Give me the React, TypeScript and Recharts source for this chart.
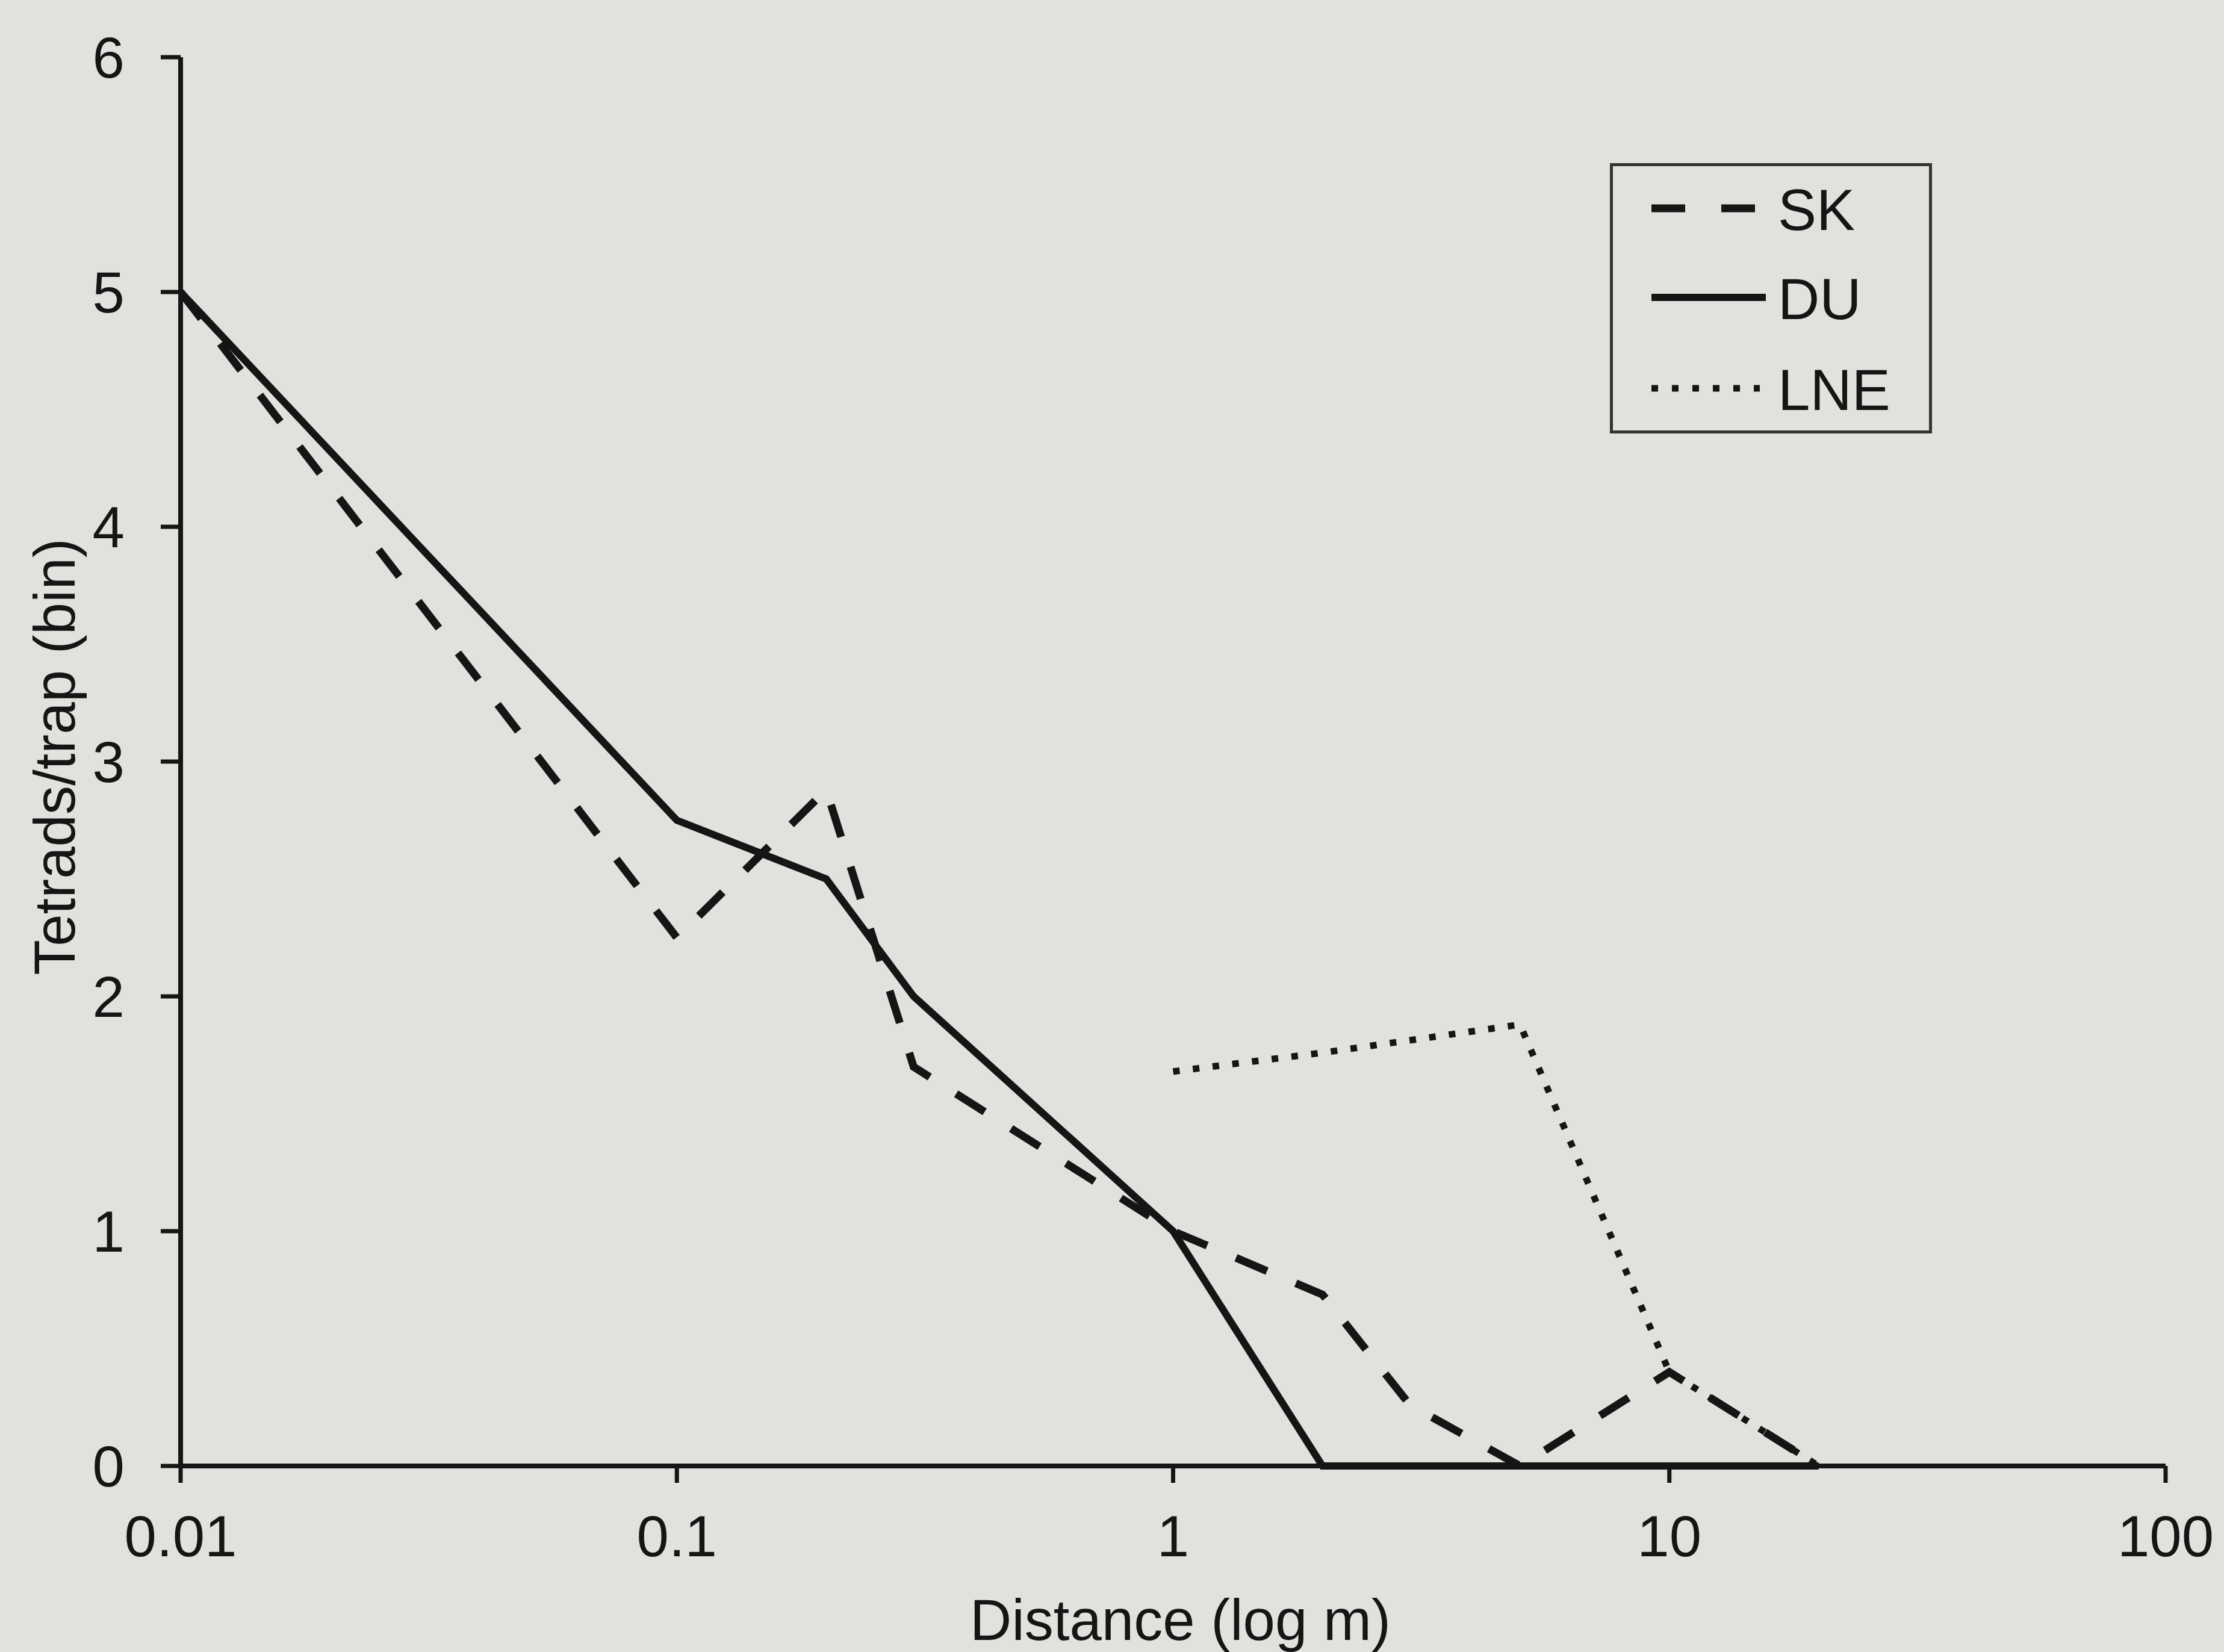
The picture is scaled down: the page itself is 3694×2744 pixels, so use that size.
import React from 'react';
import { LineChart, Line, XAxis, YAxis, Legend, Label } from 'recharts';

// ---- data ----
const skDistance = [0.01, 0.1, 0.2, 0.3, 1, 2, 3, 5, 10, 20];
const skValues = [5, 2.25, 2.88, 1.7, 1.0, 0.73, 0.26, 0, 0.4, 0];

const duDistance = [0.01, 0.1, 0.2, 0.3, 1, 2, 3, 5, 10, 20];
const duValues = [5, 2.75, 2.5, 2.0, 1.0, 0, 0, 0, 0, 0];

const lneDistance = [1, 2, 5, 10, 20];
const lneValues = [1.68, 1.76, 1.88, 0.4, 0];

const seriesOrder = ['SK', 'DU', 'LNE'];

const xTicks = [0.01, 0.1, 1, 10, 100];
const yTicks = [0, 1, 2, 3, 4, 5, 6];

const xTitle = 'Distance (log m)';
const yTitle = 'Tetrads/trap (bin)';

const toPoints = (xs: number[], ys: number[]) => xs.map((x, i) => ({ x, y: ys[i] }));
const skData = toPoints(skDistance, skValues);
const duData = toPoints(duDistance, duValues);
const lneData = toPoints(lneDistance, lneValues);

// ---- styles ----
const W = 3694;
const H = 2744;
const BG = '#e1e2dd';
const INK = '#151515';
const FONT = '"Liberation Sans", Arial, Helvetica, sans-serif';
const FS = 96;

const seriesStyle: Record<string, { dash?: string; width: number; legendLen: number; legendDash?: string }> = {
  SK: { dash: '56 52', width: 13, legendLen: 172, legendDash: '56 60' },
  DU: { width: 12, legendLen: 190 },
  LNE: { dash: '11 22', width: 11, legendLen: 180, legendDash: '11 23' },
};

const legendBox = { left: 2674, top: 271, width: 535, height: 449 };

const LegendContent = (props: any) => {
  const payload = ((props.payload || []) as any[]).slice().sort(
    (a, b) => seriesOrder.indexOf(String(a.value)) - seriesOrder.indexOf(String(b.value))
  );
  const rowY = [75, 223, 374];
  return (
    <svg width={legendBox.width} height={legendBox.height} style={{ display: 'block' }}>
      <rect x={2.5} y={2.5} width={legendBox.width - 5} height={legendBox.height - 5}
        fill="none" stroke="#333" strokeWidth={5} />
      {payload.map((entry, i) => {
        const name = String(entry.value);
        const st = seriesStyle[name] || { width: 10, legendLen: 180 };
        const cy = rowY[i] ?? 75 + i * 150;
        return (
          <g key={name}>
            <line x1={69} y1={cy} x2={69 + st.legendLen} y2={cy} stroke={INK}
              strokeWidth={st.width} strokeDasharray={st.legendDash} />
            <text x={279} y={cy + 36} fontSize={FS} fontFamily={FONT} fill={INK}>{name}</text>
          </g>
        );
      })}
    </svg>
  );
};

const YTitle = (props: any) => {
  const vb = props.viewBox || { x: 0, y: 95, width: 300, height: 2340 };
  const cx = 90;
  const cy = vb.y + vb.height / 2 - 8;
  return (
    <text x={cx} y={cy} transform={`rotate(-90, ${cx}, ${cy})`} textAnchor="middle"
      dominantBaseline="central" fontSize={FS} fontFamily={FONT} fill={INK}>{yTitle}</text>
  );
};

const XTitle = (props: any) => {
  const vb = props.viewBox || { x: 300, y: 2435, width: 3297, height: 309 };
  const cx = vb.x + vb.width / 2 + 12;
  return (
    <text x={cx} y={2724} textAnchor="middle" fontSize={FS} fontFamily={FONT} fill={INK}>{xTitle}</text>
  );
};

export default function App() {
  return (
    <div style={{ position: 'absolute', left: 0, top: 0, width: W, height: H, background: BG, overflow: 'hidden' }}>
      <LineChart width={W} height={H} margin={{ top: 95, right: 97, bottom: 0, left: 0 }}>
        <XAxis
          dataKey="x"
          type="number"
          scale="log"
          domain={[0.01, 100]}
          ticks={xTicks}
          interval={0}
          height={309}
          axisLine={{ stroke: INK, strokeWidth: 8 }}
          tickLine={{ stroke: INK, strokeWidth: 7 }}
          tickSize={28}
          tickMargin={54}
          tick={{ fontSize: FS, fill: INK, fontFamily: FONT }}
          allowDataOverflow
        >
          <Label content={<XTitle />} />
        </XAxis>
        <YAxis
          dataKey="y"
          type="number"
          domain={[0, 6]}
          ticks={yTicks}
          interval={0}
          width={300}
          axisLine={{ stroke: INK, strokeWidth: 8 }}
          tickLine={{ stroke: INK, strokeWidth: 7 }}
          tickSize={33}
          tickMargin={60}
          tick={{ fontSize: FS, fill: INK, fontFamily: FONT }}
        >
          <Label content={<YTitle />} />
        </YAxis>
        <Legend
          layout="vertical"
          align="center"
          verticalAlign="middle"
          content={<LegendContent />}
          wrapperStyle={{ position: 'absolute', left: legendBox.left, top: legendBox.top, width: legendBox.width, height: legendBox.height, margin: 0, padding: 0 }}
        />
        <Line data={skData} dataKey="y" name="SK" type="linear" stroke={INK}
          strokeWidth={seriesStyle.SK.width} strokeDasharray={seriesStyle.SK.dash}
          dot={false} activeDot={false} isAnimationActive={false} />
        <Line data={duData} dataKey="y" name="DU" type="linear" stroke={INK}
          strokeWidth={seriesStyle.DU.width}
          dot={false} activeDot={false} isAnimationActive={false} />
        <Line data={lneData} dataKey="y" name="LNE" type="linear" stroke={INK}
          strokeWidth={seriesStyle.LNE.width} strokeDasharray={seriesStyle.LNE.dash}
          dot={false} activeDot={false} isAnimationActive={false} />
      </LineChart>
    </div>
  );
}
